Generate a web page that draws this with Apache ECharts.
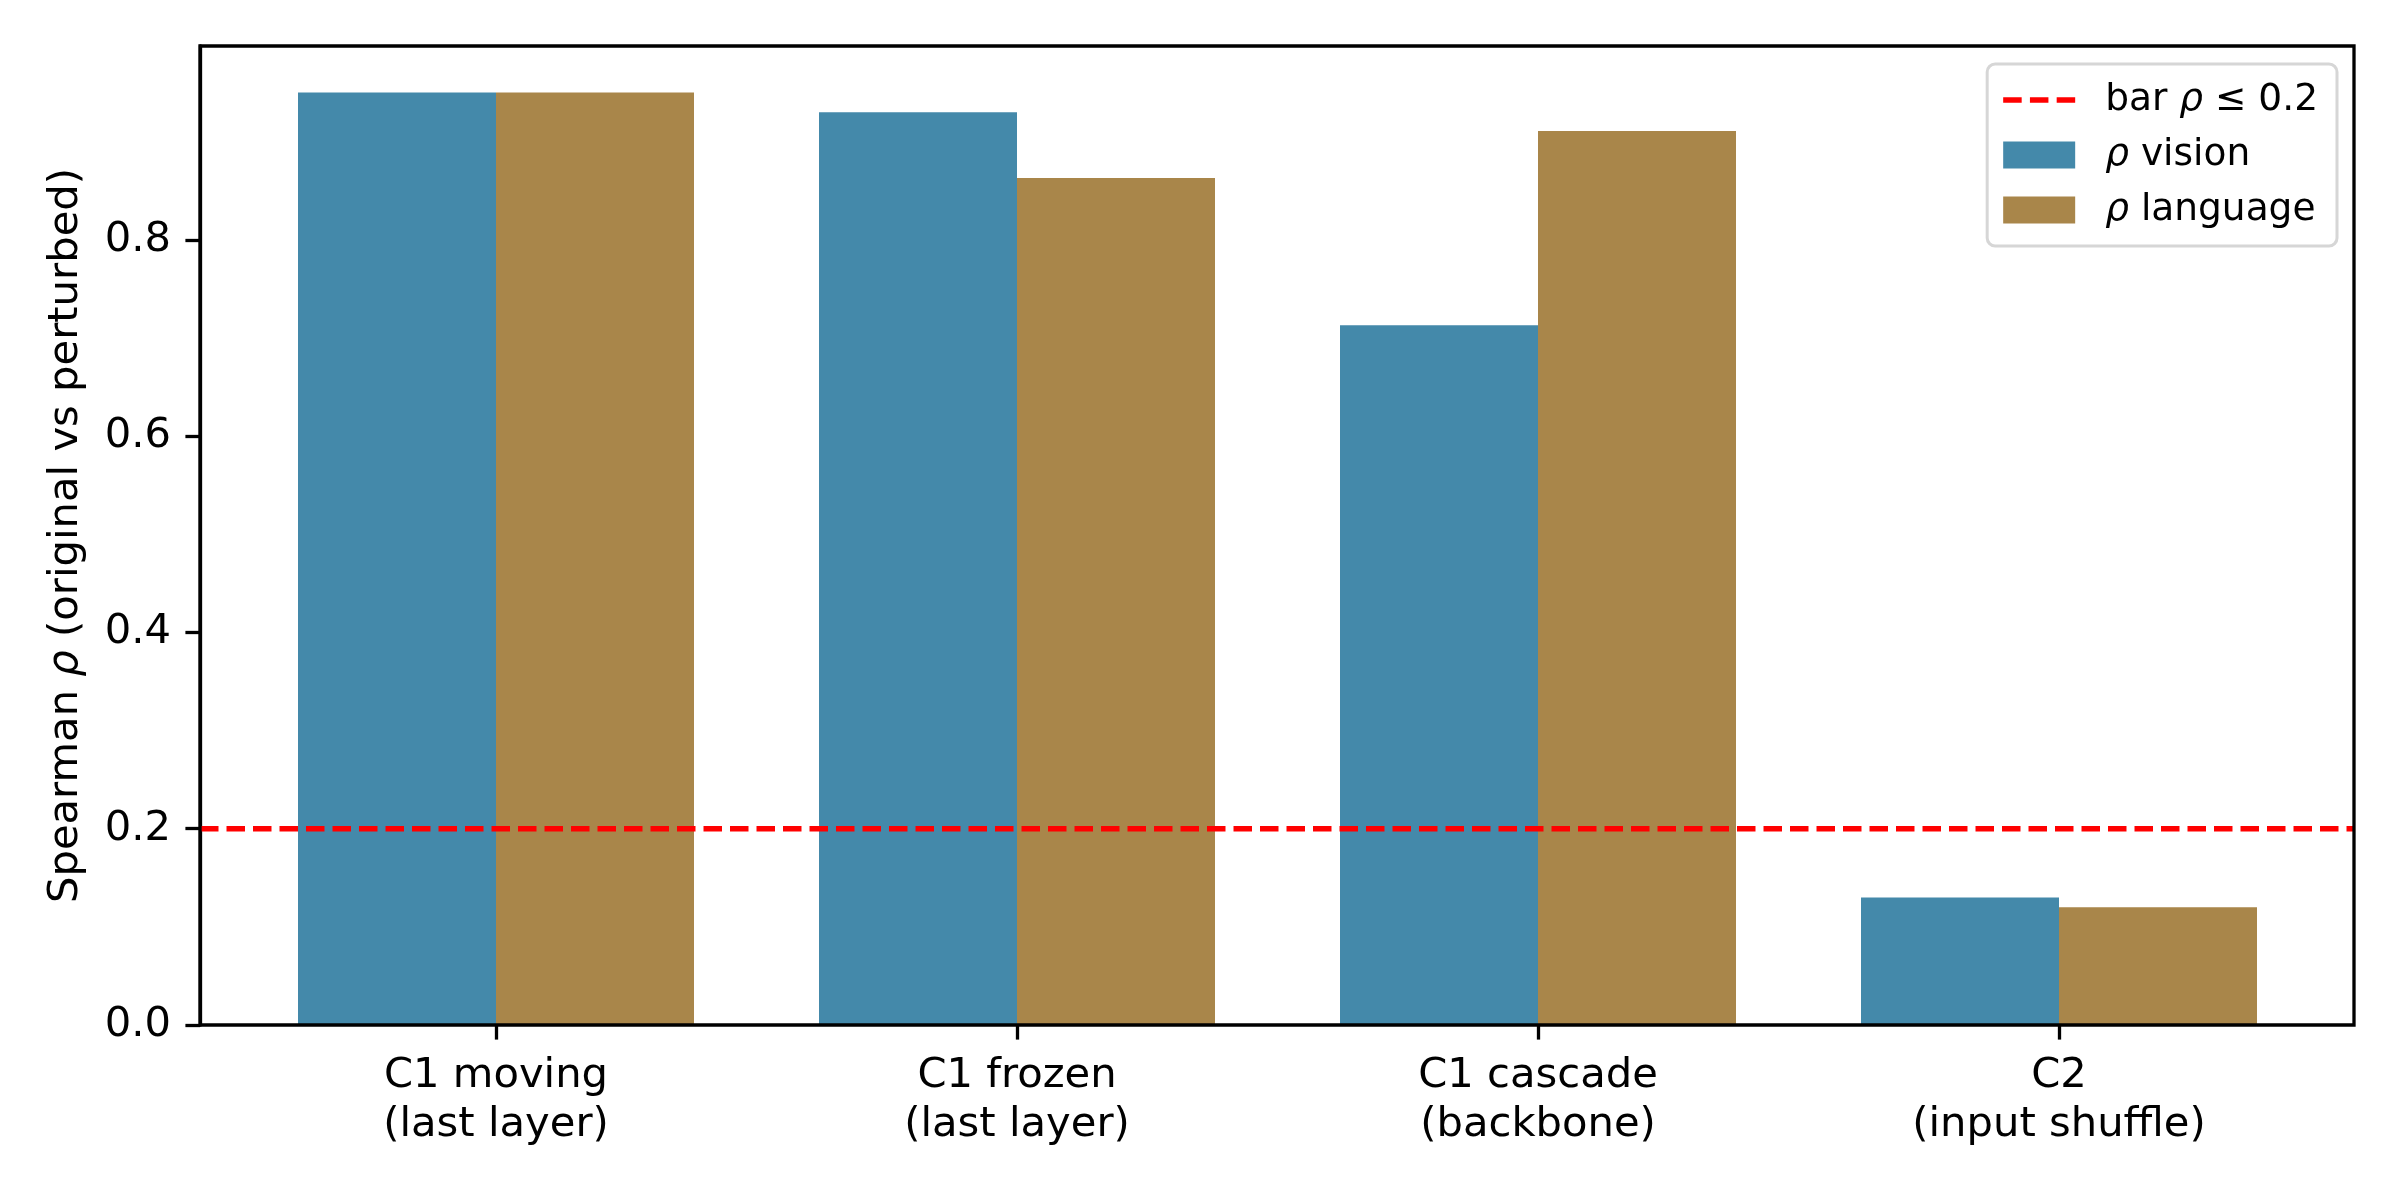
<!DOCTYPE html>
<html>
<head>
<meta charset="utf-8">
<script src="https://cdn.jsdelivr.net/npm/echarts@6/dist/echarts.min.js"></script>
<style>
  html, body { margin: 0; padding: 0; background: #fff; }
  #chart { width: 2400px; height: 1200px; }
</style>
</head>
<body>
<div id="chart"></div>
<script>
// 数据
var categories = ['C1 moving\n(last layer)', 'C1 frozen\n(last layer)', 'C1 cascade\n(backbone)', 'C2\n(input shuffle)'];
var visionRho = [0.95, 0.93, 0.713, 0.13];
var languageRho = [0.95, 0.863, 0.911, 0.12];
var barThreshold = 0.2;
var yTicks = [0, 0.2, 0.4, 0.6, 0.8];

var FONT = 'DejaVu Sans';
var myChart = echarts.init(document.getElementById('chart'));

// 把 ρ 换成斜体
function italicRho(name) {
    return name.replace(/ρ/g, '{i|ρ}');
}

// 图例里的虚线图标 (M0,0 / M72,27 撑开包围盒)
var dashIcon = 'path://M0,0M72,27M0,10.75h18.5v5.5H0zM26.75,10.75h18.5v5.5h-18.5zM53.5,10.75h18.5v5.5h-18.5z';

var option = {
    backgroundColor: '#fff',
    animation: false,
    textStyle: { fontFamily: FONT, color: '#000' },
    grid: [
        // 柱子用的内层 grid，和 matplotlib 的类别间距对齐
        { left: 235.5, right: 80.5, top: 46, bottom: 175, show: false },
        // 外框
        { left: 200, right: 46, top: 46, bottom: 175, show: true,
          borderColor: '#000', borderWidth: 3.3, z: 10 }
    ],
    legend: {
        orient: 'vertical',
        right: 63,
        top: 64,
        padding: [17, 19, 17, 16],
        itemWidth: 72,
        itemHeight: 27,
        itemGap: 17,
        borderColor: '#d6d6d6',
        borderWidth: 3,
        borderRadius: 8,
        backgroundColor: 'rgba(255,255,255,0.8)',
        data: [
            { name: 'bar ρ ≤ 0.2', icon: dashIcon, itemStyle: { color: '#ff0000' } },
            { name: 'ρ vision', icon: 'rect' },
            { name: 'ρ language', icon: 'rect' }
        ],
        formatter: italicRho,
        textStyle: {
            fontFamily: FONT,
            fontSize: 37.5,
            color: '#000',
            lineHeight: 27,
            padding: [0, 0, 0, 25],
            rich: {
                i: { fontFamily: FONT, fontStyle: 'italic', fontSize: 37.5, color: '#000' }
            }
        }
    },
    xAxis: [
        {
            type: 'category',
            gridIndex: 0,
            data: categories,
            boundaryGap: true,
            axisLine: { show: false },
            axisTick: { show: true, alignWithLabel: true, length: 14.6,
                        lineStyle: { color: '#000', width: 3.3 } },
            axisLabel: { fontFamily: FONT, fontSize: 41.7, color: '#000',
                         lineHeight: 49, margin: 27, interval: 0 },
            splitLine: { show: false }
        },
        {
            type: 'value',
            gridIndex: 1,
            min: 0,
            max: 1,
            show: false
        }
    ],
    yAxis: [
        {
            type: 'value',
            gridIndex: 0,
            min: 0,
            max: 0.9975,
            show: false,
            splitLine: { show: false }
        },
        {
            type: 'value',
            gridIndex: 1,
            min: 0,
            max: 0.9975,
            interval: 0.2,
            name: 'Spearman {i|ρ} (original vs perturbed)',
            nameLocation: 'middle',
            nameGap: 113,
            nameTextStyle: {
                fontFamily: FONT, fontSize: 41.7, color: '#000',
                rich: { i: { fontFamily: FONT, fontStyle: 'italic', fontSize: 41.7, color: '#000' } }
            },
            axisLine: { show: true, lineStyle: { color: '#000', width: 3.3 } },
            axisTick: { show: true, length: 14.6, customValues: yTicks,
                        lineStyle: { color: '#000', width: 3.3 } },
            axisLabel: { fontFamily: FONT, fontSize: 41.7, color: '#000', margin: 29,
                         customValues: yTicks,
                         formatter: function (v) { return v.toFixed(1); } },
            splitLine: { show: false }
        }
    ],
    series: [
        {
            name: 'bar ρ ≤ 0.2',
            type: 'line',
            xAxisIndex: 1,
            yAxisIndex: 1,
            data: [[0, barThreshold], [1, barThreshold]],
            symbol: 'none',
            z: 5,
            itemStyle: { color: '#ff0000' },
            lineStyle: { color: '#ff0000', width: 5.5, type: [18.5, 8] }
        },
        {
            name: 'ρ vision',
            type: 'bar',
            xAxisIndex: 0,
            yAxisIndex: 0,
            data: visionRho,
            barWidth: 198,
            barGap: '0%',
            z: 2,
            itemStyle: { color: '#4489aa' }
        },
        {
            name: 'ρ language',
            type: 'bar',
            xAxisIndex: 0,
            yAxisIndex: 0,
            data: languageRho,
            barWidth: 198,
            barGap: '0%',
            z: 2,
            itemStyle: { color: '#a9864a' }
        }
    ]
};

myChart.setOption(option);
window.addEventListener('resize', function () { myChart.resize(); });
</script>
</body>
</html>
